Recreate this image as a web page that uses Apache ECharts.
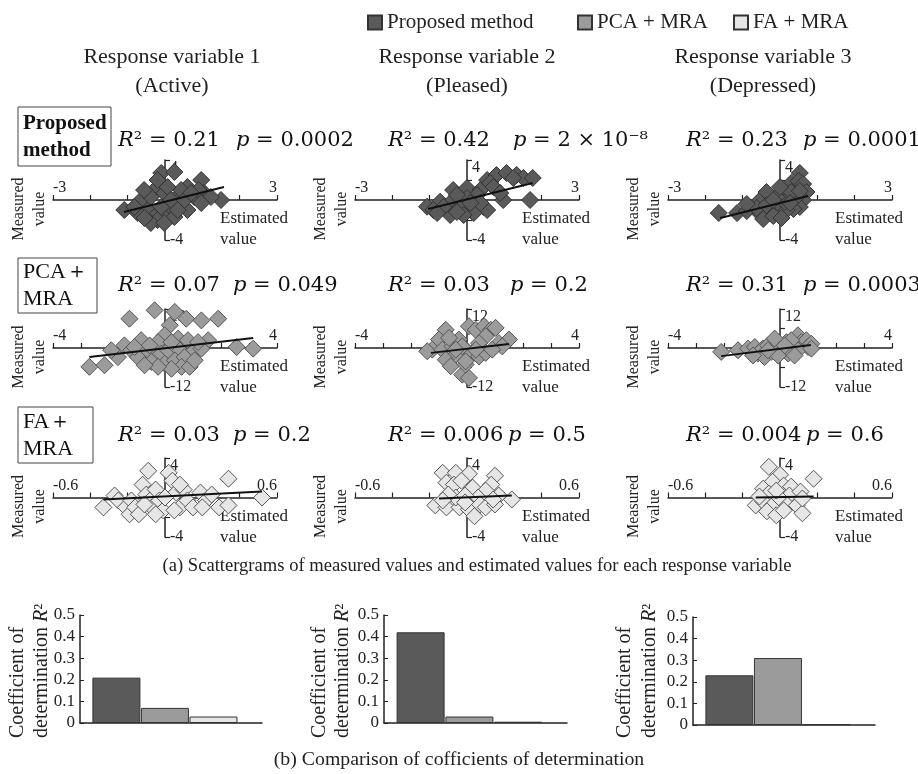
<!DOCTYPE html>
<html>
<head>
<meta charset="utf-8">
<script src="https://cdn.jsdelivr.net/npm/echarts@6/dist/echarts.min.js"></script>
<style>
  html, body { margin: 0; padding: 0; background: #fff; }
  #main { width: 918px; height: 774px; }
</style>
</head>
<body>
<div id="main"></div>
<script>
// 方法名 / 响应变量
var methods = ['Proposed method', 'PCA + MRA', 'FA + MRA'];
var rowLabels = [['Proposed', 'method'], ['PCA\uFF0B', 'MRA'], ['FA\uFF0B', 'MRA']];
var responses = ['Response variable 1', 'Response variable 2', 'Response variable 3'];
var moods = ['(Active)', '(Pleased)', '(Depressed)'];

// R2 and p texts shown above each scattergram (rows = method, cols = response)
var r2Text = [['0.21', '0.42', '0.23'], ['0.07', '0.03', '0.31'], ['0.03', '0.006', '0.004']];
var pText = [['0.0002', '2 \u00D7 10\u207B\u2078', '0.0001'], ['0.049', '0.2', '0.0003'], ['0.2', '0.5', '0.6']];

// bar chart values (coefficient of determination)
var r2Proposed = [0.21, 0.42, 0.23];
var r2Pca = [0.07, 0.03, 0.31];
var r2Fa = [0.03, 0.006, 0.004];
var barTicks = [0, 0.1, 0.2, 0.3, 0.4, 0.5];

// axis ranges per row (estimated value range, measured value range)
var xRange = [3, 4, 0.6];
var xStep = [1, 1, 0.2];
var yRange = [4, 12, 4];
var yStep = [2, 6, 2];

// scatter points [estimated, measured]
var prop1 = [[-1.09,-1.0],[-0.1,2.7],[0.25,2.8],[0.97,2.0],[-0.2,1.3],[1.5,0],[1.05,0.7],[0.6,1.3],[-0.64,0],[-0.46,-1.0],
  [-0.29,-1.7],[0.07,-1.3],[0.16,-0.7],[0.43,-0.3],[0.34,0.3],[-0.02,0.7],[-0.38,0.3],[-0.56,1.0],[0.78,0.3],[0.6,-1.0],
  [-0.2,-2.0],[-0.38,-2.3],[-0.73,-1.3],[0.25,-1.7],[0.9,1.0],[1.23,0.3],[0.43,1.0],[0.07,1.3],[-0.2,2.0],[-0.82,-0.7],
  [-0.1,-0.7],[0.16,0],[0.52,0],[0.97,-0.3],[-0.55,-1.8],[-0.02,-2.3],[0.34,-1.0],[0.7,0.7]];
var prop2 = [[-1.07,-0.67],[-0.72,-0.17],[-0.9,-1.0],[-0.54,-1.0],[-0.37,1.0],[-0.37,0],[0,1.2],[0.18,0],[0.36,1.0],[0.54,2.0],
  [0.79,2.5],[1.06,2.7],[1.33,2.5],[1.51,2.2],[1.76,2.2],[0.97,0],[1.69,0],[0.62,1.7],[0.44,-0.7],[0.54,-1.0],
  [0.09,-1.0],[-0.18,-0.7],[0.18,-1.3],[-0.09,-1.5],[-0.45,-1.5],[0.27,0.5],[0,0.2],[-0.27,0.5],[0.71,1.3],[-0.63,-0.7],
  [-0.8,-1.3],[0.36,-0.3],[1.24,2.2],[0.89,0.7],[-0.27,-1.2],[0.09,-0.3]];
var prop3 = [[-1.64,-1.3],[-1.15,-1.3],[-0.89,-1.1],[-0.53,0],[-0.36,0.8],[-0.53,-1.4],[-0.45,-1.9],[-0.27,-0.8],[-0.18,-1.6],[0,-0.5],
  [0.18,0.2],[0.18,0.9],[0.3,1.7],[0.53,2.7],[0.5,1.9],[0.62,1.6],[0.71,0.8],[0.62,0],[0.53,-0.7],[0.36,-0.9],
  [0.18,-1.0],[0.13,-0.2],[0.44,0.3],[-0.09,0.3],[-0.62,-0.8],[-0.36,-0.5],[0.3,0.8],[0,1.3],[0.27,-0.3],[-0.18,0],
  [0.53,0.9],[0.04,-1.8],[-0.89,-0.4]];
var pca1 = [[-1.27,9.0],[-0.37,11.6],[0.35,11.1],[0.76,9.0],[1.3,8.5],[1.9,9.0],[0.17,7.0],[-0.01,3.9],[-0.85,2.4],[-0.25,1.8],
  [0.47,2.9],[0.82,2.4],[1.54,2.4],[-1.45,0.8],[-1.2,-0.7],[-1.68,-2.8],[-1.92,-0.7],[-2.7,-5.8],[-2.16,-5.3],[-0.97,-2.8],
  [-0.61,-0.7],[-0.49,-4.3],[-0.13,-1.7],[0.11,-0.7],[0.47,-0.2],[-0.01,-4.8],[0.35,-3.8],[0.7,-2.8],[1.06,-0.7],[0.59,-5.8],
  [0.88,-5.8],[0.23,-6.4],[-0.25,-5.8],[-0.73,-5.3],[1.3,-0.2],[2.56,0.3],[3.15,-0.2],[1.18,1.8],[-0.55,0.8],[0.23,1.8],
  [-1.09,0.3],[1.06,-3.8]];
var pca2 = [[-0.76,5.6],[-1.0,2.6],[-1.24,-0.5],[-1.42,-1.0],[-0.88,-0.5],[-0.52,0.5],[-0.29,2.6],[0.07,6.7],[0.31,5.6],[0.61,6.7],
  [0.85,5.6],[1.02,6.2],[0.67,3.6],[0.43,1.5],[1.14,1.5],[1.5,2.6],[1.26,0.5],[-0.05,-0.5],[0.19,-1.5],[-0.4,-2.1],
  [-0.76,-3.6],[-0.58,-5.6],[-0.17,-8.2],[0.07,-9.2],[-0.05,-5.1],[0.43,-2.6],[0.67,-1.5],[0.31,-0.5],[-0.17,0.5],[-0.64,3.1],
  [-0.05,-4.1],[-0.4,-0.5],[0.9,-0.5]];
var pca3 = [[-2.1,-1.2],[-1.5,-0.7],[-1.14,-0.2],[-0.9,0.3],[-0.79,-1.7],[-0.61,-0.2],[-0.55,-2.8],[-0.43,0.8],[-0.31,-1.2],[-0.07,1.3],
  [0.11,-0.7],[0.23,1.8],[0.4,0.3],[0.64,3.9],[0.76,1.8],[0.94,2.4],[1.0,0.3],[0.64,-0.7],[0.29,-1.7],[-0.07,-2.3],
  [-0.96,-2.3],[-0.19,2.9],[0.4,2.4],[1.12,1.3],[-0.43,-0.7],[0.52,-2.3],[0.17,0.8],[1.12,-0.2]];
var fa1 = [[-0.33,-1.0],[-0.27,0.2],[-0.25,-0.3],[-0.21,-1.0],[-0.19,-1.7],[-0.18,-0.3],[-0.16,-1.0],[-0.14,-1.7],[-0.12,1.3],[-0.1,0.3],
  [-0.09,2.7],[-0.08,-0.3],[-0.07,-1.0],[-0.05,0.8],[-0.03,-0.3],[-0.01,-1.3],[0.02,2.5],[0.04,1.7],[0.06,0.5],[0.08,-1.0],
  [0.1,0.8],[0.12,-0.3],[0.15,-1.0],[0.19,0.5],[0.22,-0.3],[0.25,0.3],[0.29,-1.0],[0.34,-0.8],[0.34,1.9],[0.52,0],
  [-0.11,-0.7],[0.0,0],[0.08,1.3],[0.2,-1.0],[-0.05,-1.7],[0.05,-1.3]];
var fa2 = [[-0.13,2.5],[-0.06,2.5],[0.01,2.4],[-0.11,1.5],[-0.07,1.3],[-0.03,1.7],[0.03,1.0],[0.15,2.2],[0.13,1.3],[0.1,0.7],
  [0.06,0],[0.24,-0.2],[0.17,0.2],[-0.17,-0.8],[-0.11,-1.0],[-0.04,-1.0],[0.01,-1.2],[0.07,-0.7],[0.1,-1.0],[0.15,-0.7],
  [-0.06,0],[-0.01,0.2],[-0.1,0.3],[-0.01,-0.5],[-0.13,-0.3],[0.04,-1.9],[0.14,-0.2]];
var fa3 = [[-0.06,3.1],[0,2.3],[0.18,1.9],[-0.04,1.6],[0.02,1.2],[-0.09,0.9],[0.06,1.1],[-0.06,0.4],[0.05,0.2],[0.11,0.6],
  [-0.13,-0.8],[-0.09,-0.4],[-0.04,-0.8],[0,-0.1],[0.04,-0.8],[0.09,-0.8],[0.12,-1.6],[-0.07,-1.4],[-0.02,-1.8],[0.02,-1.3],
  [0.12,-0.1],[-0.11,0.1],[-0.02,0.7]];

// regression lines (end points)
var fitProp = [[[-1.1,-1.2],[1.58,1.3]], [[-1.04,-0.9],[1.76,1.7]], [[-1.6,-1.8],[0.75,0.4]]];
var fitPca = [[[-2.7,-2.8],[3.15,3.1]], [[-1.29,-1.5],[1.5,1.2]], [[-2.1,-2.5],[1.1,0.9]]];
var fitFa = [[[-0.33,-0.2],[0.52,0.6]], [[-0.15,-0.1],[0.24,0.2]], [[-0.13,0],[0.18,0.1]]];

var scatterData = [[prop1, prop2, prop3], [pca1, pca2, pca3], [fa1, fa2, fa3]];
var fitData = [fitProp, fitPca, fitFa];

var SERIF = '"Liberation Serif", "Times New Roman", serif';
var MATH = '"DejaVu Serif", serif';
var fills = ['#5a5a5a', '#9b9b9b', '#e6e6e6'];
var borders = ['#333', '#555', '#555'];

// layout
var colLeft = [53, 355, 668];
var panelW = 224;
var rowTop = [160, 309, 458];
var rowH = [80, 78, 79];
var r2X = [118, 388, 686];
var pX = [[236, 513, 803], [233, 510, 803], [233, 508, 806]];
var textY = [141, 286, 436];

var myChart = echarts.init(document.getElementById('main'));

var grids = [], xAxes = [], yAxes = [], series = [], graphic = [];

function endOnly(min, max) {
    return function (v) {
        return (Math.abs(v - min) < 1e-6 || Math.abs(v - max) < 1e-6) ? String(v) : '';
    };
}

var axisLine = { onZero: false, lineStyle: { color: '#222', width: 1.5 } };

for (var r = 0; r < 3; r++) {
    for (var c = 0; c < 3; c++) {
        var idx = grids.length;
        grids.push({ left: colLeft[c], top: rowTop[r], width: panelW, height: rowH[r] });
        // axes cross in the middle (ranges are symmetric), moved there with offset
        xAxes.push({
            type: 'value', gridIndex: idx, position: 'bottom', offset: -rowH[r] / 2,
            min: -xRange[r], max: xRange[r], interval: xStep[r],
            axisLine: axisLine, splitLine: { show: false },
            axisTick: { inside: true, length: 5, lineStyle: { color: '#222', width: 1.2 } },
            axisLabel: {
                inside: true, margin: 4, showMinLabel: true, showMaxLabel: true,
                alignMinLabel: 'left', alignMaxLabel: 'right',
                fontFamily: SERIF, fontSize: 16, color: '#222',
                formatter: endOnly(-xRange[r], xRange[r])
            }
        });
        yAxes.push({
            type: 'value', gridIndex: idx, position: 'left', offset: -panelW / 2,
            min: -yRange[r], max: yRange[r], interval: yStep[r],
            axisLine: axisLine, splitLine: { show: false },
            axisTick: { inside: true, length: 5, lineStyle: { color: '#222', width: 1.2 } },
            axisLabel: {
                inside: true, margin: 5, showMinLabel: true, showMaxLabel: true,
                verticalAlignMinLabel: 'middle', verticalAlignMaxLabel: 'top',
                fontFamily: SERIF, fontSize: 16, color: '#222',
                formatter: endOnly(-yRange[r], yRange[r])
            }
        });
        series.push({
            type: 'scatter', xAxisIndex: idx, yAxisIndex: idx, symbol: 'diamond', symbolSize: 17,
            data: scatterData[r][c], silent: true,
            itemStyle: { color: fills[r], borderColor: borders[r], borderWidth: 1, opacity: 1 }
        });
        series.push({
            type: 'line', xAxisIndex: idx, yAxisIndex: idx, data: fitData[r][c], symbol: 'none',
            silent: true, z: 5, lineStyle: { color: '#111', width: 2 }
        });

        var axisY = rowTop[r] + rowH[r] / 2;
        // Measured value (rotated) / Estimated value
        graphic.push({ type: 'text', x: colLeft[c] - 34, y: axisY + 9, rotation: Math.PI / 2,
            style: { text: 'Measured', fontFamily: SERIF, fontSize: 16, fill: '#222', align: 'center', verticalAlign: 'middle' } });
        graphic.push({ type: 'text', x: colLeft[c] - 13, y: axisY + 9, rotation: Math.PI / 2,
            style: { text: 'value', fontFamily: SERIF, fontSize: 16, fill: '#222', align: 'center', verticalAlign: 'middle' } });
        graphic.push({ type: 'text', x: colLeft[c] + 167, y: axisY + 19,
            style: { text: 'Estimated', fontFamily: SERIF, fontSize: 17, fill: '#222', align: 'left', verticalAlign: 'middle' } });
        graphic.push({ type: 'text', x: colLeft[c] + 167, y: axisY + 40,
            style: { text: 'value', fontFamily: SERIF, fontSize: 17, fill: '#222', align: 'left', verticalAlign: 'middle' } });

        // R^2 and p
        graphic.push({ type: 'text', x: r2X[c], y: textY[r],
            style: { text: '{i|R}\u00B2 = ' + r2Text[r][c], fontFamily: MATH, fontSize: 21, fill: '#111',
                align: 'left', verticalAlign: 'middle', rich: { i: { fontFamily: MATH, fontSize: 21, fontStyle: 'italic' } } } });
        graphic.push({ type: 'text', x: pX[r][c], y: textY[r],
            style: { text: '{i|p} = ' + pText[r][c], fontFamily: MATH, fontSize: 21, fill: '#111',
                align: 'left', verticalAlign: 'middle', rich: { i: { fontFamily: MATH, fontSize: 21, fontStyle: 'italic' } } } });
    }
}

// column titles
var colCenter = [172, 467, 763];
for (var c = 0; c < 3; c++) {
    graphic.push({ type: 'text', x: colCenter[c], y: 57,
        style: { text: responses[c], fontFamily: SERIF, fontSize: 22, fill: '#222', align: 'center', verticalAlign: 'middle' } });
    graphic.push({ type: 'text', x: colCenter[c], y: 86,
        style: { text: moods[c], fontFamily: SERIF, fontSize: 22, fill: '#222', align: 'center', verticalAlign: 'middle' } });
}

// row label boxes
var boxes = [[18, 107, 93, 59], [18, 258, 79, 55], [18, 407, 75, 56]];
for (var r = 0; r < 3; r++) {
    var b = boxes[r];
    graphic.push({ type: 'rect', shape: { x: b[0], y: b[1], width: b[2], height: b[3] },
        style: { fill: '#fff', stroke: '#444', lineWidth: 1 } });
    graphic.push({ type: 'text', x: b[0] + 5, y: b[1] + b[3] / 2 - 13,
        style: { text: rowLabels[r][0], fontFamily: SERIF, fontSize: r === 0 ? 21 : 22, fontWeight: r === 0 ? 'bold' : 'normal',
            fill: '#111', align: 'left', verticalAlign: 'middle' } });
    graphic.push({ type: 'text', x: b[0] + 5, y: b[1] + b[3] / 2 + 14,
        style: { text: rowLabels[r][1], fontFamily: SERIF, fontSize: r === 0 ? 21 : 22, fontWeight: r === 0 ? 'bold' : 'normal',
            fill: '#111', align: 'left', verticalAlign: 'middle' } });
}

// captions
graphic.push({ type: 'text', x: 477, y: 566,
    style: { text: '(a) Scattergrams of measured values and estimated values for each response variable',
        fontFamily: SERIF, fontSize: 18.6, fill: '#222', align: 'center', verticalAlign: 'middle' } });
graphic.push({ type: 'text', x: 459, y: 760,
    style: { text: '(b) Comparison of cofficients of determination',
        fontFamily: SERIF, fontSize: 19.8, fill: '#222', align: 'center', verticalAlign: 'middle' } });

// bar charts
var barGrid = [[80, 615, 182, 108], [384, 615, 183, 108], [693, 617, 182, 108]];
var barNameX = [[18, 42], [320, 343], [625, 650]];
var barVals = [r2Proposed, r2Pca, r2Fa];
for (var k = 0; k < 3; k++) {
    var g = barGrid[k];
    var idx = grids.length;
    grids.push({ left: g[0], top: g[1], width: g[2], height: g[3] });
    xAxes.push({ type: 'value', gridIndex: idx, min: 0.25, max: 4,
        axisLine: { lineStyle: { color: '#222', width: 1.5 } }, axisTick: { show: false },
        axisLabel: { show: false }, splitLine: { show: false } });
    yAxes.push({ type: 'value', gridIndex: idx, min: barTicks[0], max: barTicks[barTicks.length - 1], interval: 0.1,
        axisLine: { show: true, lineStyle: { color: '#222', width: 1.5 } },
        axisTick: { show: true, inside: true, length: 4, lineStyle: { color: '#222' } },
        splitLine: { show: false },
        axisLabel: { fontFamily: SERIF, fontSize: 17, color: '#222', margin: 5,
            formatter: function (v) { return v === 0 ? '0' : v.toFixed(1); } } });
    for (var m = 0; m < 3; m++) {
        series.push({
            type: 'bar', name: methods[m], xAxisIndex: idx, yAxisIndex: idx,
            data: [[m + 1, barVals[m][k]]], barWidth: 48, barGap: '-100%',
            itemStyle: { color: fills[m], borderColor: '#333', borderWidth: 1 }
        });
    }
    graphic.push({ type: 'text', x: barNameX[k][0], y: 738, rotation: Math.PI / 2,
        style: { text: 'Coefficient of', fontFamily: SERIF, fontSize: 20, fill: '#222', align: 'left', verticalAlign: 'middle' } });
    graphic.push({ type: 'text', x: barNameX[k][1], y: 738, rotation: Math.PI / 2,
        style: { text: 'determination {i|R}\u00B2', fontFamily: SERIF, fontSize: 20, fill: '#222', align: 'left', verticalAlign: 'middle',
            rich: { i: { fontFamily: SERIF, fontSize: 20, fontStyle: 'italic' } } } });
}

// one legend per item so each sits where it does in the figure
var legendLeft = [367, 577, 733];
var legends = methods.map(function (name, i) {
    return {
        data: [name], left: legendLeft[i], top: 12, padding: 0, icon: 'rect', itemWidth: 14, itemHeight: 14,
        textStyle: { fontFamily: SERIF, fontSize: 21, color: '#222' }
    };
});

option = {
    animation: false,
    backgroundColor: '#fff',
    legend: legends,
    grid: grids,
    xAxis: xAxes,
    yAxis: yAxes,
    series: series,
    graphic: graphic
};
myChart.setOption(option);
window.addEventListener('resize', function () {
    myChart.resize();
});
</script>
</body>
</html>
